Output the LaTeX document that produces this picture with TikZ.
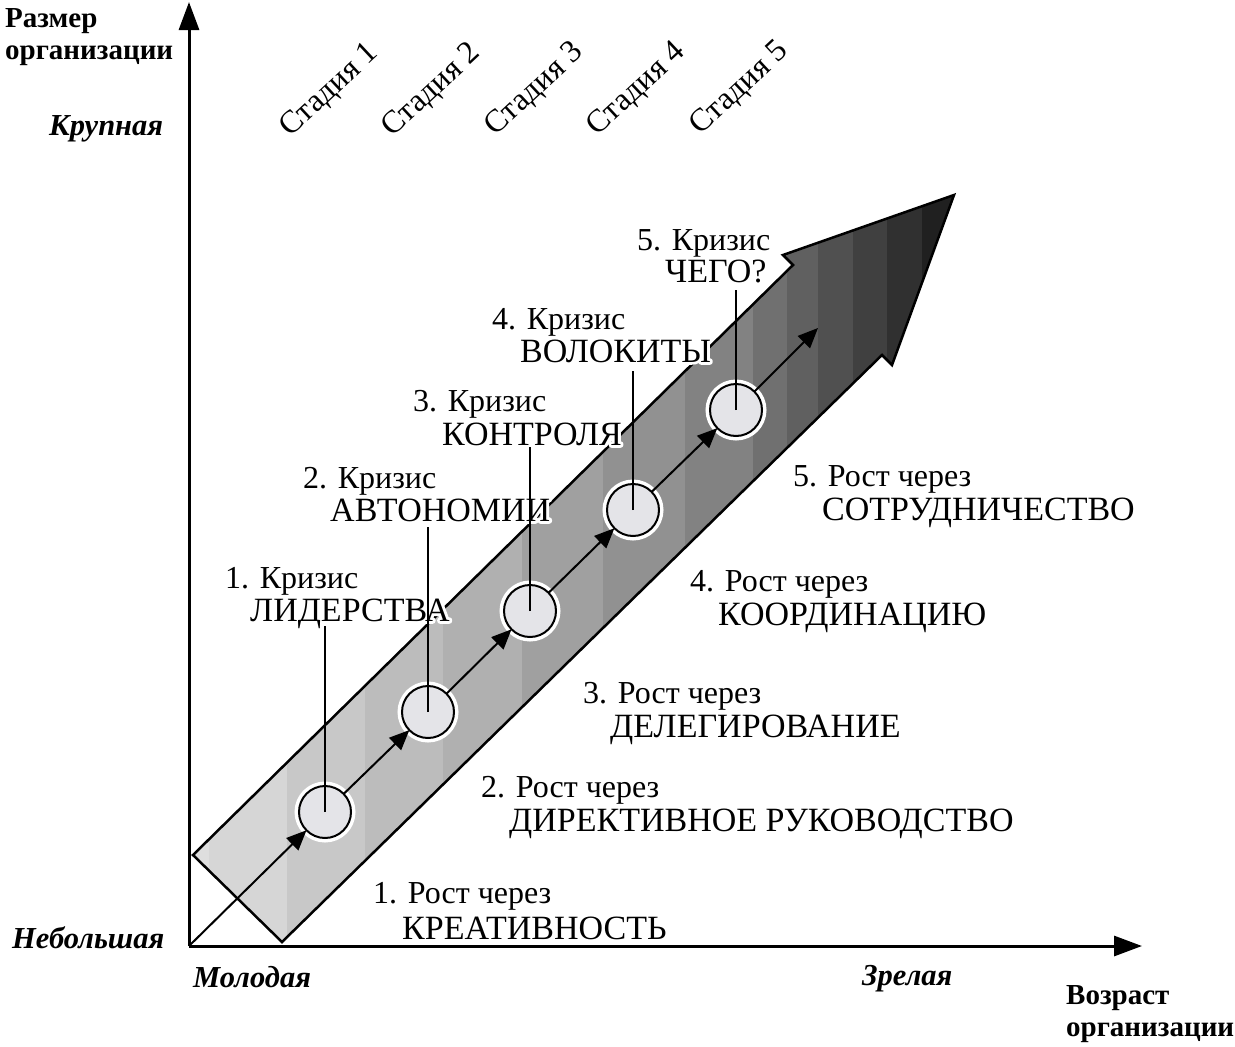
\documentclass[tikz,border=0pt]{standalone}
\usepackage{fontspec}
\setmainfont{Liberation Serif}
\usetikzlibrary{arrows.meta,calc}
\definecolor{circfill}{RGB}{228,228,232}
\newcommand\halotxt[1]{\rlap{\color{white}\special{pdf:code 2 Tr 5.5 w 1 j}#1\special{pdf:code 0 Tr}}#1}
\begin{document}
\begin{tikzpicture}[x=1pt,y=-1pt,
  lbl/.style={inner sep=0pt,anchor=base west,font=\fontsize{32}{36}\selectfont},
  capl/.style={inner sep=0pt,anchor=base west,font=\fontsize{34}{38}\selectfont},
  axlbl/.style={inner sep=0pt,anchor=base west,font=\fontsize{29}{32}\selectfont\bfseries},
  axval/.style={inner sep=0pt,anchor=base west,font=\fontsize{30.5}{33}\selectfont\bfseries\itshape},
  stage/.style={inner sep=0pt,anchor=center,font=\fontsize{32}{36}\selectfont,rotate=43},
  axis/.style={line width=3pt,-{Triangle[length=28pt,width=20pt]}},
  conn/.style={line width=2pt,-{Triangle[length=20pt,width=17pt]}},
  stem/.style={line width=2pt},
  crisis/.style={circle,minimum size=52pt,inner sep=0pt,outer sep=0pt,fill=circfill,draw=black,line width=2pt,
    preaction={draw=white,line width=9pt}},
]
\useasboundingbox[fill=white] (0,0) rectangle (1235,1047);

% ---------- big gradient arrow ----------
\def\bigarrow{(193,855) -- (282,942) -- (882,355) -- (892,365) -- (954,195) -- (783,255) -- (793,265) -- cycle}
\begin{scope}
  \clip \bigarrow;
  \foreach \xa/\xb/\g in {190/209/222,209/287/214,287/365/200,365/443/188,443/522/176,522/603/160,
      603/685/145,685/753/130,753/787/112,787/818/96,818/853/80,853/887/64,887/922/48,922/960/32}{
    \definecolor{stripe}{RGB}{\g,\g,\g}
    \fill[stripe] (\xa,150) rectangle (\xb+0.6,960);
  }
\end{scope}
\draw[line width=2.5pt,line join=miter] \bigarrow;

% ---------- axes ----------
\coordinate (O) at (189,946);
\coordinate (ytop) at (189,2);
\coordinate (xend) at (1142,946);
\draw[axis] (O) -- (ytop);
\draw[axis] (O) -- (xend);

% ---------- axis labels ----------
\node[axlbl] (ylab1) at (5,27) {Размер};
\node[axlbl] (ylab2) at (5,59) {организации};
\node[axval] (big) at (49,135) {Крупная};
\node[axval] (small) at (12,948) {Небольшая};
\node[axval] (young) at (193,987) {Молодая};
\node[axval] (mature) at (862,985) {Зрелая};
\node[axlbl] (xlab1) at (1066,1004) {Возраст};
\node[axlbl] (xlab2) at (1066,1036) {организации};

% ---------- stages ----------
\node[stage] (s1) at (330,91) {Стадия 1};
\node[stage] (s2) at (432,91) {Стадия 2};
\node[stage] (s3) at (535,90) {Стадия 3};
\node[stage] (s4) at (637,90) {Стадия 4};
\node[stage] (s5) at (740,89) {Стадия 5};

% ---------- growth labels ----------
\node[lbl] (g1a) at (373,903) {1. Рост через};
\node[capl] (g1b) at (402,939) {КРЕАТИВНОСТЬ};
\node[lbl] (g2a) at (481,797) {2. Рост через};
\node[capl] (g2b) at (509,831) {ДИРЕКТИВНОЕ РУКОВОДСТВО};
\node[lbl] (g3a) at (583,703) {3. Рост через};
\node[capl] (g3b) at (610,737) {ДЕЛЕГИРОВАНИЕ};
\node[lbl] (g4a) at (690,591) {4. Рост через};
\node[capl] (g4b) at (718,625) {КООРДИНАЦИЮ};
\node[lbl] (g5a) at (793,486) {5. Рост через};
\node[capl] (g5b) at (822,520) {СОТРУДНИЧЕСТВО};

% ---------- crisis labels ----------
\node[lbl] (k1a) at (225,588) {\halotxt{1. Кризис}};
\node[capl] (k1b) at (250,621) {\halotxt{ЛИДЕРСТВА}};
\node[lbl] (k2a) at (303,488) {\halotxt{2. Кризис}};
\node[capl] (k2b) at (330,521) {\halotxt{АВТОНОМИИ}};
\node[lbl] (k3a) at (413,411) {\halotxt{3. Кризис}};
\node[capl] (k3b) at (442,445) {\halotxt{КОНТРОЛЯ}};
\node[lbl] (k4a) at (492,329) {\halotxt{4. Кризис}};
\node[capl] (k4b) at (520,362) {\halotxt{ВОЛОКИТЫ}};
\node[lbl] (k5a) at (637,250) {\halotxt{5. Кризис}};
\node[capl] (k5b) at (665,282) {\halotxt{ЧЕГО?}};

% ---------- circles ----------
\node[crisis] (c1) at (325,812) {};
\node[crisis] (c2) at (428,712) {};
\node[crisis] (c3) at (530,611) {};
\node[crisis] (c4) at (633,510) {};
\node[crisis] (c5) at (736,410) {};

% ---------- stems ----------
\coordinate (t1) at (325,626);
\coordinate (t2) at (428,527);
\coordinate (t3) at (530,447);
\coordinate (t4) at (633,371);
\coordinate (t5) at (736,290);
\draw[stem] (c1.center) -- (t1);
\draw[stem] (c2.center) -- (t2);
\draw[stem] (c3.center) -- (t3);
\draw[stem] (c4.center) -- (t4);
\draw[stem] (c5.center) -- (t5);

% ---------- connectors ----------
\coordinate (aend) at (818,328);
\draw[conn] (O) -- (c1);
\draw[conn] (c1) -- (c2);
\draw[conn] (c2) -- (c3);
\draw[conn] (c3) -- (c4);
\draw[conn] (c4) -- (c5);
\draw[conn] (c5) -- (aend);
\end{tikzpicture}
\end{document}
